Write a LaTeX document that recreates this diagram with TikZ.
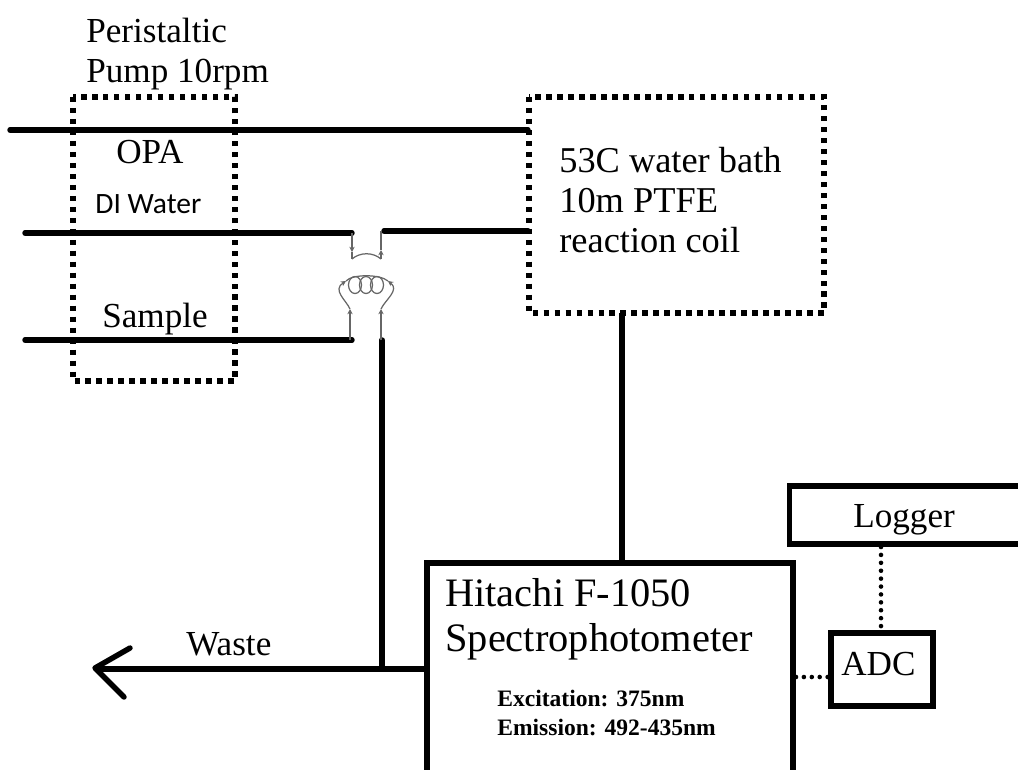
\documentclass[tikz,border=0pt]{standalone}
\usepackage{fontspec}
\setmainfont{Liberation Serif}
\newfontfamily\labelfont{Carlito}
\usetikzlibrary{arrows.meta}

\tikzset{
  pipe/.style={line width=3.1pt,line cap=round},
  thin pipe/.style={line width=.7pt,black!60},
  small tip/.style={-{Stealth[length=3pt,width=3pt]}},
  pump box/.style={line width=2.9pt,dash pattern=on 3.1pt off 3.15pt},
  data line/.style={line width=2.6pt,line cap=round,dash pattern=on 0pt off 4.5pt},
  solid box/.style={line width=2.9pt},
  big text/.style={font=\fontsize{20}{22.7}\selectfont,align=left,inner sep=0pt},
}

\begin{document}
\begin{tikzpicture}[x=.02cm,y=-.02cm]

      \useasboundingbox (0,0) rectangle (1018,769);
      \clip (0,0) rectangle (1018,769);

      \begin{scope}[every node/.style={big text,anchor=base west}]
        \node (title) at (86,82)   {Peristaltic\\Pump 10rpm};
        \node (opa)   at (116,163) {OPA};
        \node (samp)  at (102,327) {Sample};
        \node (waste) at (186,655) {Waste};
        \node (log)   at (853,527) {Logger};
        \node (adc)   at (841,675) {ADC};
        \node (di)    at (95,213)  {\labelfont\fontsize{16.8}{18}\selectfont DI Water};
        \node[font=\fontsize{20.7}{22.7}\selectfont] (bath) at (559,252) {53C water bath\\10m PTFE\\reaction coil};
        \node[font=\fontsize{23}{25.5}\selectfont] (name) at (445,651) {Hitachi F-1050\\Spectrophotometer};
        \node[font=\bfseries\fontsize{13.4}{16}\selectfont] (exc) at (497,735) {Excitation: 375nm\\Emission: 492-435nm};
      \end{scope}

      % boxes
      \draw[pump box] (73,97) rectangle (235,381);
      \draw[pump box] (529,97) rectangle (824,313);
      \draw[solid box,line width=3.4pt] (427,563) rectangle (793,790);
      \draw[solid box] (831,633) rectangle (933,706);
      \draw[solid box] (789.5,486) rectangle (1030,544);

      \coordinate (specL) at (427,669);
      \coordinate (specR) at (796,677);
      \coordinate (specT) at (622,563);
      \coordinate (adcL) at (829,677);
      \coordinate (adcT) at (881,631);
      \coordinate (logB) at (881,547);
      \coordinate (bathB) at (622,313);
      \coordinate (opaA) at (10,130);
      \coordinate (opaB) at (528,130);
      \coordinate (diA) at (25,233);
      \coordinate (diB) at (352,233);
      \coordinate (outA) at (384,231);
      \coordinate (outB) at (528,231);
      \coordinate (sampA) at (25,340);
      \coordinate (sampB) at (352,340);
      \coordinate (wasteT) at (382,340);
      \coordinate (wasteJ) at (382,669);
      \coordinate (wasteE) at (97,669);

      % tubing
      \draw[pipe] (opaA) -- (opaB);
      \draw[pipe] (diA) -- (diB);
      \draw[pipe] (outA) -- (outB);
      \draw[pipe] (sampA) -- (sampB);
      \draw[pipe] (wasteT) -- (wasteJ);
      \draw[pipe,line cap=butt] (specL) -- (wasteE);
      \draw[pipe,line cap=butt] (bathB) -- (specT);
      \draw[pipe,line join=round] (130,648) -- (95,668) -- (124,697);

      % signal
      \draw[data line] (logB) -- (adcT);
      \draw[data line] (specR) -- (adcL);

      % valve and coil
      \coordinate (vA) at (352,259);
      \coordinate (vB) at (381,259);
      \coordinate (vC) at (350,308);
      \coordinate (vD) at (381,308);
      \coordinate (vE) at (346,281);
      \coordinate (vF) at (388,281);
      \draw[thin pipe,small tip] (diB) -- (352,252);
      \draw[thin pipe] (352,252) -- (vA);
      \draw[thin pipe,small tip] (vB) -- (381,250);
      \draw[thin pipe] (381,250) -- (outA -| vB);
      \draw[thin pipe] (vA) .. controls (360,252) and (373,252) .. (vB);
      \draw[thin pipe,small tip] (sampB -| vC) -- (350,309);
      \draw[thin pipe,small tip] (wasteT -| vD) -- (381,309);
      \draw[thin pipe,small tip] (350,309) .. controls (346,300) and (332,290) .. (vE);
      \draw[thin pipe,small tip] (381,309) .. controls (385,300) and (400,290) .. (vF);
      \draw[thin pipe] (vE) .. controls (352,274) and (380,274) .. (vF);
      \foreach \cx in {355,366,377}
        \draw[thin pipe] (\cx,285) ellipse [x radius=6.5,y radius=8.5];

\end{tikzpicture}
\end{document}
